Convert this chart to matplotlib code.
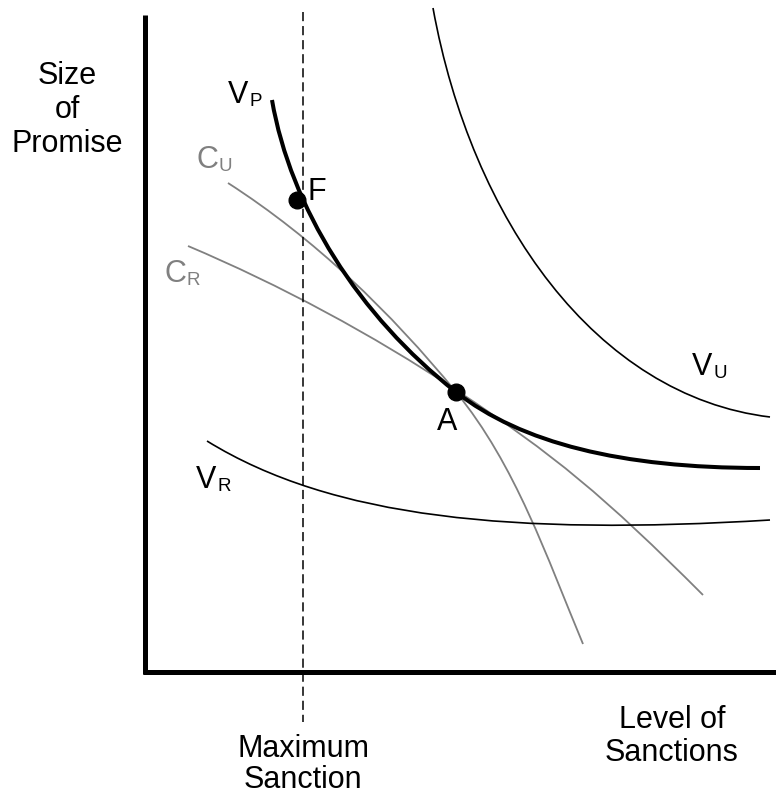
import matplotlib
matplotlib.use("Agg")
import matplotlib.pyplot as plt
from matplotlib.path import Path
from matplotlib.patches import PathPatch

# Bezier control points (pixel coords, y downward)
# each curve: start, then groups of 3 points per cubic segment
vp_pts = [(272, 100), (290.6, 207.7), (358.7, 315.8), (456, 392),
          (521, 443), (621, 468), (760, 468)]
vu_pts = [(433, 8), (471.5, 219.6), (596, 396), (770, 417)]
cu_pts = [(228, 183), (314.5, 238.6), (390.8, 312.3), (456, 392),
          (515.5, 464.8), (546.8, 557.2), (583, 644)]
cr_pts = [(188, 246), (281, 285.4), (371.7, 334.3), (456, 390),
          (554.4, 454.8), (603.8, 495.8), (703, 595)]
vr_pts = [(207, 441), (332.3, 518.3), (512.6, 535.6), (770, 520)]

points_x = [297, 456]
points_y = [200, 392]

max_sanction = 303

plt.rcParams["font.family"] = ["Liberation Sans", "DejaVu Sans"]

fig = plt.figure(figsize=(7.76, 7.96), dpi=100)
ax = fig.add_axes([0, 0, 1, 1])
ax.set_xlim(0, 776)
ax.set_ylim(796, 0)
ax.axis("off")

grey = "#808080"


def curve(pts, color, lw):
    codes = [Path.MOVETO] + [Path.CURVE4] * (len(pts) - 1)
    p = PathPatch(Path(pts, codes), facecolor="none", edgecolor=color,
                  lw=lw, capstyle="butt")
    ax.add_patch(p)


# axes of the diagram
ax.plot([145, 145], [15, 674], color="black", lw=3.6, solid_capstyle="butt")
ax.plot([143, 776], [672, 672], color="black", lw=3.6, solid_capstyle="butt")
ax.plot([max_sanction, max_sanction], [12, 722], color="black", lw=1.1,
        dashes=(6, 3.2))

curve(cu_pts, grey, 1.3)
curve(cr_pts, grey, 1.3)
curve(vu_pts, "black", 1.2)
curve(vr_pts, "black", 1.2)
curve(vp_pts, "black", 2.9)
ax.plot(points_x, points_y, "o", color="black", ms=12)

fs = 22
sub = 13.5


def label(x, y, main, subs, color="black"):
    t = ax.text(x, y, main, fontsize=fs, color=color, va="baseline")
    fig.canvas.draw()
    bb = t.get_window_extent().transformed(ax.transData.inverted())
    ax.text(bb.x1 + 1, y + 3, subs, fontsize=sub, color=color, va="baseline")


label(228, 103, "V", "P")
label(196, 168, "C", "U", grey)
label(164, 282, "C", "R", grey)
label(196, 488, "V", "R")
label(692, 375, "V", "U")

ax.text(308, 200, "F", fontsize=fs, va="baseline")
ax.text(447, 430, "A", fontsize=fs, va="baseline", ha="center")

for txt, yy in [("Size", 84), ("of", 118), ("Promise", 152)]:
    ax.text(67, yy, txt, fontsize=fs, ha="center", va="baseline")
for txt, yy in [("Maximum", 757), ("Sanction", 788)]:
    ax.text(max_sanction, yy, txt, fontsize=fs, ha="center", va="baseline")
for txt, yy in [("Level of", 728), ("Sanctions", 761)]:
    ax.text(672, yy, txt, fontsize=fs, ha="center", va="baseline")

fig.savefig("out.png", dpi=100)
